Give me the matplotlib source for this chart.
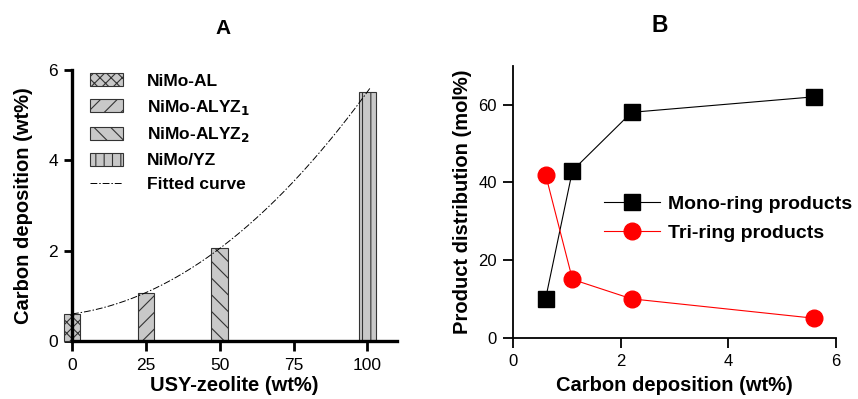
import numpy as np
import matplotlib
matplotlib.use("Agg")
import matplotlib.pyplot as plt
from matplotlib.patches import Patch
from matplotlib.lines import Line2D

plt.rcParams['font.family'] = ['Liberation Sans', 'DejaVu Sans']
plt.rcParams['hatch.linewidth'] = 0.8
plt.rcParams['mathtext.default'] = 'bf'

# panel A data
usy = [0, 25, 50, 100]
carbon = [0.6, 1.07, 2.05, 5.52]
catalysts = ['NiMo-AL', r'NiMo-ALYZ$_1$', r'NiMo-ALYZ$_2$', 'NiMo/YZ']
hatches = ['xxx', '//', '\\\\', '||']

# panel B data
carbon_dep = [0.6, 1.1, 2.2, 5.6]
mono_ring = [10, 43, 58, 62]
tri_ring = [42, 15, 10, 5]

W, H = 858, 399
fig = plt.figure(figsize=(W / 100, H / 100), dpi=100)

# ---- A ----
axA = fig.add_axes([72 / W, 1 - 341 / H, 325 / W, 271 / H])
bar_fill = '#c8c8c8'
for xv, yv, h in zip(usy, carbon, hatches):
    axA.bar(xv, yv, width=5.6, color=bar_fill, edgecolor='#333333',
            linewidth=0.8, hatch=h, clip_on=False, zorder=2)

# quadratic fit of the bar heights
coef = np.polyfit(usy, carbon, 2)
xs = np.linspace(0, 101, 200)
fit_style = (0, (7, 2, 1.5, 2))
axA.plot(xs, np.polyval(coef, xs), color='black', lw=0.7,
         linestyle=fit_style, zorder=3)

axA.set_xlim(0, 110)
axA.set_ylim(0, 6)
axA.set_xticks([0, 25, 50, 75, 100])
axA.set_yticks([0, 2, 4, 6])
for s in ['top', 'right']:
    axA.spines[s].set_visible(False)
for s in ['left', 'bottom']:
    axA.spines[s].set_linewidth(2.4)
axA.tick_params(axis='x', direction='out', length=7, width=2, labelsize=12.5, pad=5)
axA.tick_params(axis='y', direction='out', length=6, width=2, labelsize=12.5, pad=4)
axA.set_xlabel('USY-zeolite (wt%)', fontsize=14.5, fontweight='bold', va='top')
axA.xaxis.set_label_coords(0.5, -0.13)
axA.set_ylabel('Carbon deposition (wt%)', fontsize=14.5, fontweight='bold')
axA.yaxis.set_label_coords(-0.12, 0.5)
fig.text(223 / W, 1 - 28.5 / H, 'A', fontsize=15, fontweight='bold',
         ha='center', va='center')

handles = [Patch(facecolor=bar_fill, edgecolor='#333333', linewidth=0.8, hatch=h)
           for h in hatches]
handles.append(Line2D([], [], color='black', lw=0.7, linestyle=fit_style))
axA.legend(handles, catalysts + ['Fitted curve'], loc='upper left',
           bbox_to_anchor=(0.006, 1.045), frameon=False,
           prop={'weight': 'bold', 'size': 12.5}, handlelength=1.9,
           handleheight=0.75, handletextpad=1.4, labelspacing=0.5)

# ---- B ----
axB = fig.add_axes([513.3 / W, 1 - 337.7 / H, 322.7 / W, 272 / H])
axB.plot(carbon_dep, mono_ring, color='black', lw=0.8, marker='s', ms=11,
         mfc='black', mec='black', label='Mono-ring products', clip_on=False, zorder=3)
axB.plot(carbon_dep, tri_ring, color='red', lw=0.8, marker='o', ms=12,
         mfc='red', mec='red', label='Tri-ring products', clip_on=False, zorder=3)
axB.set_xlim(0, 6)
axB.set_ylim(0, 70)
axB.set_xticks([0, 2, 4, 6])
axB.set_yticks([0, 20, 40, 60])
for s in ['top', 'right']:
    axB.spines[s].set_visible(False)
for s in ['left', 'bottom']:
    axB.spines[s].set_linewidth(1.3)
axB.tick_params(direction='out', length=7, width=1.3, labelsize=12, pad=5)
axB.set_xlabel('Carbon deposition (wt%)', fontsize=14.5, fontweight='bold', va='top')
axB.xaxis.set_label_coords(0.5, -0.142)
axB.set_ylabel('Product distribution (mol%)', fontsize=14.5, fontweight='bold')
axB.yaxis.set_label_coords(-0.129, 0.5)
fig.text(660 / W, 1 - 25 / H, 'B', fontsize=16.5, fontweight='bold',
         ha='center', va='center')
axB.legend(loc='upper left', bbox_to_anchor=(0.228, 0.589), frameon=False,
           prop={'weight': 'bold', 'size': 14}, handlelength=2.85,
           handletextpad=0.4, labelspacing=0.6)

fig.savefig('out.png', dpi=100)
